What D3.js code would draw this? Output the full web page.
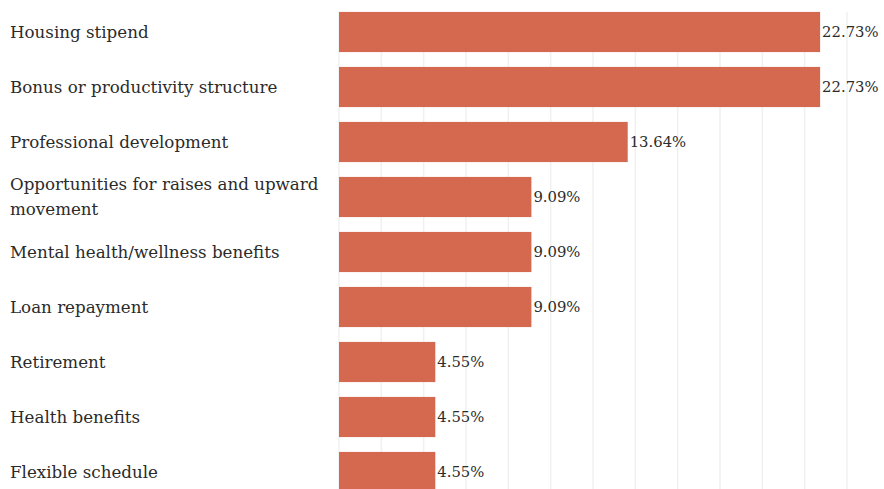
<!DOCTYPE html>
<html>
<head>
<meta charset="utf-8">
<script src="https://cdn.jsdelivr.net/npm/d3@7"></script>
<style>
  html, body { margin: 0; padding: 0; background: #ffffff; }
  svg { display: block; }
</style>
</head>
<body>
<svg id="chart" width="884" height="489"></svg>
<script>
// Share of respondents selecting each benefit
const categories = [
  "Housing stipend",
  "Bonus or productivity structure",
  "Professional development",
  "Opportunities for raises and upward movement",
  "Mental health/wellness benefits",
  "Loan repayment",
  "Retirement",
  "Health benefits",
  "Flexible schedule"
];
const values = [22.73, 22.73, 13.64, 9.09, 9.09, 9.09, 4.55, 4.55, 4.55];
const gridTicks = [0, 2, 4, 6, 8, 10, 12, 14, 16, 18, 20, 22, 24];

const width = 884, height = 489;
const svg = d3.select("#chart");

const x = d3.scaleLinear().domain([0, 24]).range([339, 847]);
const y = d3.scaleBand()
  .domain(categories)
  .range([4.5, 499.5])
  .paddingInner(0.27)
  .paddingOuter(0.135);

const font = "'DejaVu Serif', 'Liberation Serif', serif";

// vertical gridlines
svg.append("g")
  .selectAll("line")
  .data(gridTicks)
  .join("line")
  .attr("x1", d => x(d)).attr("x2", d => x(d))
  .attr("y1", 12).attr("y2", height)
  .attr("stroke", "#f0f0f0")
  .attr("stroke-width", 1.5);

// bars
svg.append("g")
  .selectAll("rect")
  .data(values)
  .join("rect")
  .attr("x", x(0))
  .attr("y", (d, i) => y(categories[i]))
  .attr("width", d => x(d) - x(0))
  .attr("height", y.bandwidth())
  .attr("fill", "#d4694f");

// value labels
svg.append("g")
  .selectAll("text")
  .data(values)
  .join("text")
  .attr("x", d => x(d) + 2)
  .attr("y", (d, i) => y(categories[i]) + y.bandwidth() / 2)
  .attr("dy", "0.35em")
  .attr("font-family", font)
  .attr("font-size", 14.8)
  .attr("fill", "#2b2b2b")
  .text(d => d.toFixed(2) + "%");

// category labels, wrapped to fit the left column
const maxLabelWidth = 322;
const lineHeight = 25;
const labels = svg.append("g")
  .selectAll("text")
  .data(categories)
  .join("text")
  .attr("font-family", font)
  .attr("font-size", 16.7)
  .attr("fill", "#2b2b2b");

labels.each(function (d) {
  const t = d3.select(this);
  const words = d.split(" ");
  const lines = [];
  let line = [];
  const probe = t.append("tspan");
  words.forEach(w => {
    line.push(w);
    probe.text(line.join(" "));
    if (probe.node().getComputedTextLength() > maxLabelWidth && line.length > 1) {
      line.pop();
      lines.push(line.join(" "));
      line = [w];
    }
  });
  lines.push(line.join(" "));
  probe.remove();
  const cy = y(d) + y.bandwidth() / 2;
  const y0 = cy - (lines.length - 1) * lineHeight / 2;
  lines.forEach((l, i) => {
    t.append("tspan")
      .attr("x", 10)
      .attr("y", y0 + i * lineHeight)
      .attr("dy", "0.35em")
      .text(l);
  });
});
</script>
</body>
</html>
